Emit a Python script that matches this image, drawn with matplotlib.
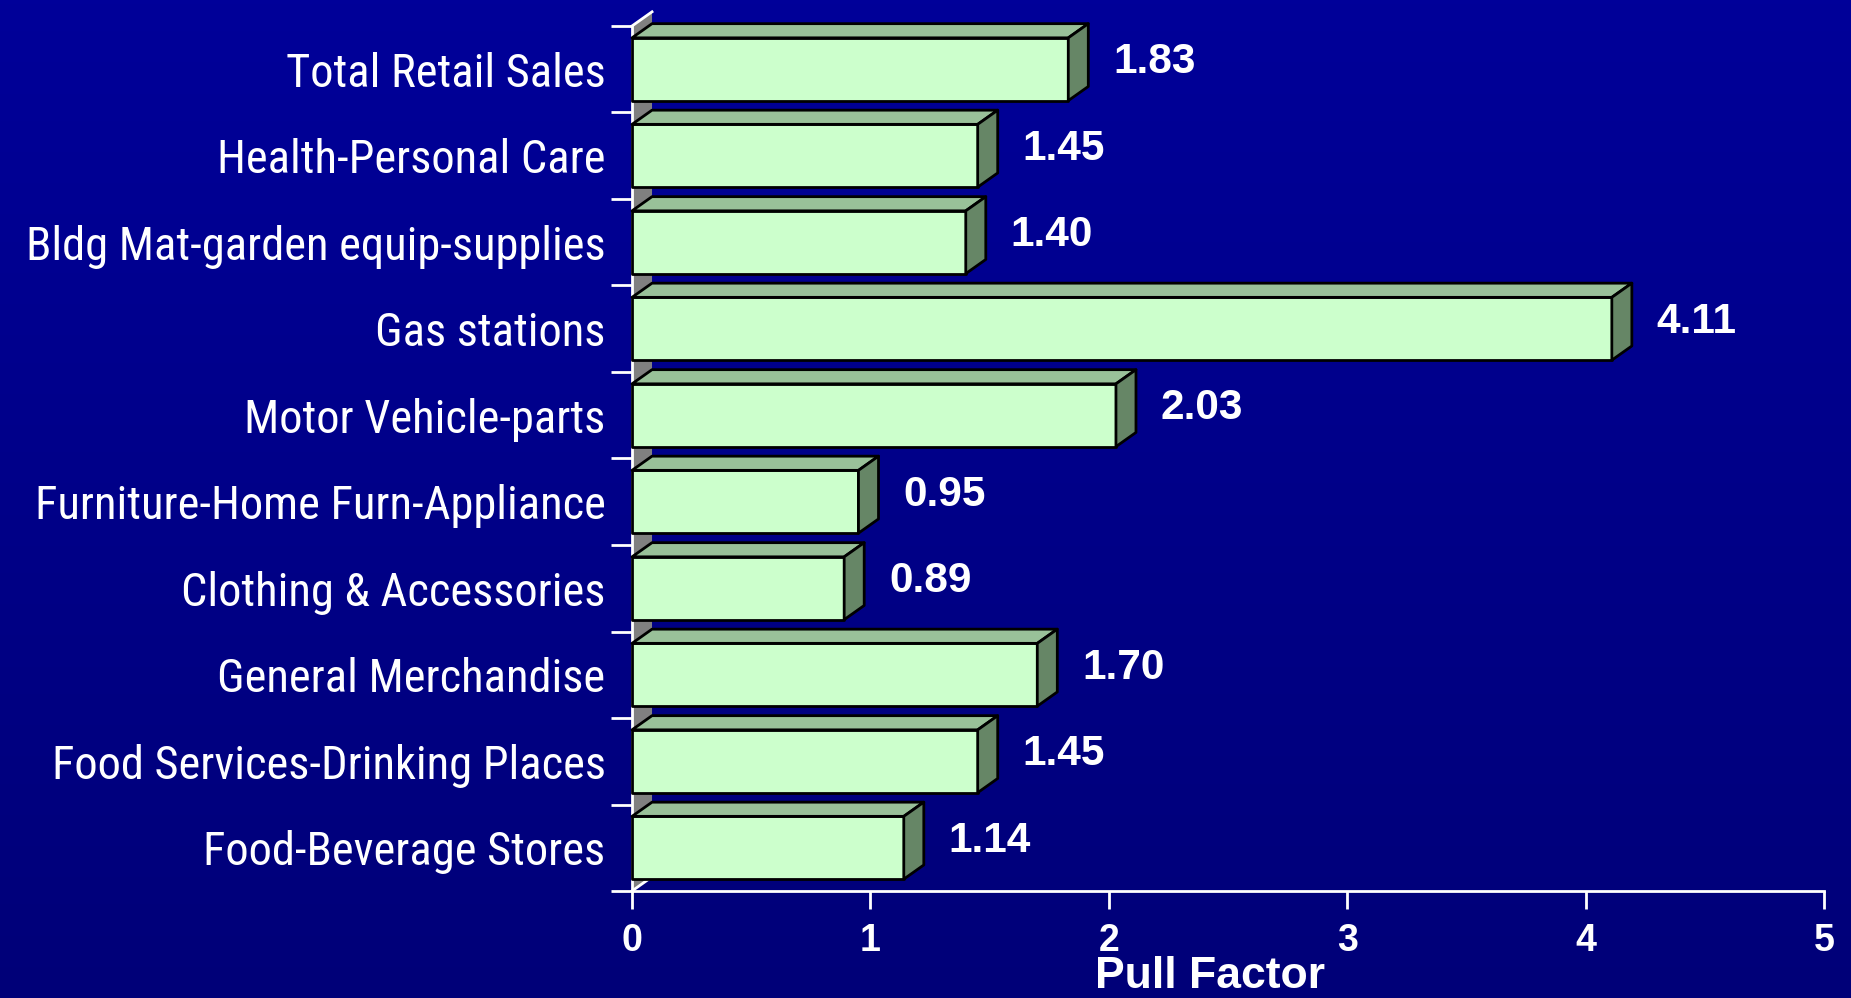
"""
Retail pull factors by sector, drawn as pseudo-3D horizontal bars on a
navy slide background.
"""
import numpy as np
import matplotlib.pyplot as plt
from matplotlib.patches import Polygon
from matplotlib.colors import LinearSegmentedColormap

# categories listed top to bottom as they appear on the chart
categories = [
    "Total Retail Sales",
    "Health-Personal Care",
    "Bldg Mat-garden equip-supplies",
    "Gas stations",
    "Motor Vehicle-parts",
    "Furniture-Home Furn-Appliance",
    "Clothing & Accessories",
    "General Merchandise",
    "Food Services-Drinking Places",
    "Food-Beverage Stores",
]
pull_factor = [1.83, 1.45, 1.40, 4.11, 2.03, 0.95, 0.89, 1.70, 1.45, 1.14]
value_labels = ["1.83", "1.45", "1.40", "4.11", "2.03", "0.95", "0.89", "1.70", "1.45", "1.14"]
x_ticks = [0, 1, 2, 3, 4, 5]

FRONT, TOP, SIDE = "#ccffcc", "#99c199", "#668666"
WALL = "#808080"
LABEL_FONT = ["Roboto Condensed", "Liberation Sans", "DejaVu Sans"]
BOLD = ["Liberation Sans", "DejaVu Sans"]

fig = plt.figure(figsize=(18.51, 9.98), dpi=100)

# slide background gradient
bg = fig.add_axes([0, 0, 1, 1], zorder=-10)
cmap = LinearSegmentedColormap.from_list("bg", ["#000078", "#000099"])
bg.imshow(np.linspace(0, 1, 256)[:, None], aspect="auto", cmap=cmap,
          origin="lower", extent=[0, 1, 0, 1])
bg.axis("off")

ax = fig.add_axes([632 / 1851, 107 / 998, 1192 / 1851, 865 / 998])
ax.set_facecolor("none")
n = len(categories)
ax.set_xlim(0, 5)
ax.set_ylim(0, n)

dx, dy = 0.084, 0.164      # depth offset of the 3-D effect (data units)
lo, hi = 0.137, 0.863      # front face within each slot

# side wall
ax.add_patch(Polygon([(0, 0), (dx, dy), (dx, n + dy), (0, n)], closed=True,
                     facecolor=WALL, edgecolor="none", zorder=1, clip_on=False))
ax.plot([0, dx], [n, n + dy], color="white", lw=2, zorder=1.5, clip_on=False)
ax.plot([0, dx], [0, dy], color="white", lw=2, zorder=1.5, clip_on=False)

for k, (val, lab) in enumerate(zip(pull_factor, value_labels)):
    i = n - 1 - k
    y0, y1 = i + lo, i + hi
    kw = dict(closed=True, edgecolor="black", lw=2, joinstyle="round",
              clip_on=False, zorder=3 + 0.01 * i)
    ax.add_patch(Polygon([(0, y0), (val, y0), (val, y1), (0, y1)], facecolor=FRONT, **kw))
    ax.add_patch(Polygon([(0, y1), (val, y1), (val + dx, y1 + dy), (dx, y1 + dy)],
                         facecolor=TOP, **kw))
    ax.add_patch(Polygon([(val, y0), (val + dx, y0 + dy), (val + dx, y1 + dy), (val, y1)],
                         facecolor=SIDE, **kw))
    ax.annotate(lab, xy=(val + dx, i + 0.58), xytext=(18, 0), textcoords="offset points",
                ha="left", va="center", color="white", fontsize=30.5, fontweight="bold",
                family=BOLD, zorder=5)

for s in ["top", "right"]:
    ax.spines[s].set_visible(False)
for s in ["left", "bottom"]:
    ax.spines[s].set_color("white")
    ax.spines[s].set_linewidth(2)
    ax.spines[s].set_zorder(2)

ax.set_xticks(x_ticks)
ax.set_xticklabels([str(t) for t in x_ticks], family=BOLD, fontweight="bold",
                   fontsize=27, color="white")
ax.tick_params(axis="x", length=13, width=2, color="white", pad=10, direction="out")

ax.set_yticks(np.arange(n) + 0.5)
ax.set_yticklabels(categories[::-1], family=LABEL_FONT, fontsize=33.5, color="white")
ax.set_yticks(np.arange(n + 1), minor=True)
ax.tick_params(axis="y", which="major", length=0, pad=19)
ax.tick_params(axis="y", which="minor", length=15, width=2, color="white")

fig.text(1210 / 1851, 21 / 998, "Pull Factor", ha="center", va="center",
         color="white", fontsize=32, fontweight="bold", family=BOLD)

fig.savefig("out.png", dpi=100, facecolor="#000090")
